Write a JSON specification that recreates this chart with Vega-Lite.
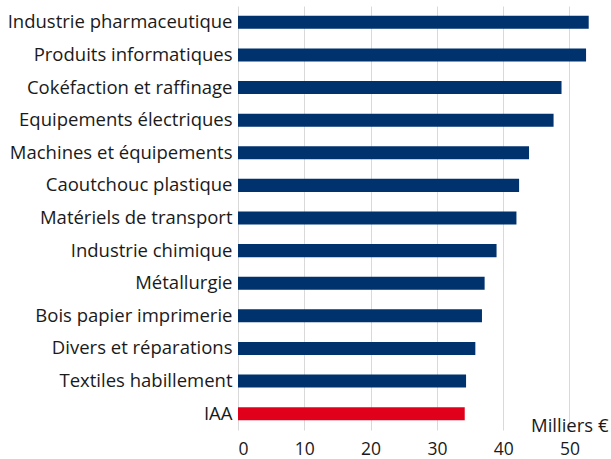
{
  "$schema": "https://vega.github.io/schema/vega-lite/v6.json",
  "autosize": {"type": "none"},
  "padding": {"left": 238, "top": 6, "right": 15, "bottom": 29},
  "width": 358,
  "height": 424,
  "background": "white",
  "data": {
    "values": [
      {"secteur": "Industrie pharmaceutique", "valeur": 52.9, "groupe": "autre"},
      {"secteur": "Produits informatiques", "valeur": 52.5, "groupe": "autre"},
      {"secteur": "Cokéfaction et raffinage", "valeur": 48.8, "groupe": "autre"},
      {"secteur": "Equipements électriques", "valeur": 47.6, "groupe": "autre"},
      {"secteur": "Machines et équipements", "valeur": 43.9, "groupe": "autre"},
      {"secteur": "Caoutchouc plastique", "valeur": 42.4, "groupe": "autre"},
      {"secteur": "Matériels de transport", "valeur": 42.0, "groupe": "autre"},
      {"secteur": "Industrie chimique", "valeur": 39.0, "groupe": "autre"},
      {"secteur": "Métallurgie", "valeur": 37.2, "groupe": "autre"},
      {"secteur": "Bois papier imprimerie", "valeur": 36.8, "groupe": "autre"},
      {"secteur": "Divers et réparations", "valeur": 35.8, "groupe": "autre"},
      {"secteur": "Textiles habillement", "valeur": 34.4, "groupe": "autre"},
      {"secteur": "IAA", "valeur": 34.2, "groupe": "IAA"}
    ]
  },
  "mark": {"type": "bar"},
  "encoding": {
    "y": {
      "field": "secteur",
      "type": "nominal",
      "sort": null,
      "scale": {"paddingInner": 0.6, "paddingOuter": 0.3},
      "axis": {
        "title": null,
        "domain": false,
        "ticks": false,
        "grid": false,
        "labelPadding": 6,
        "labelFont": "Open Sans",
        "labelFontSize": 18.5,
        "labelColor": "#1a1a1a",
        "labelLimit": 300
      }
    },
    "x": {
      "field": "valeur",
      "type": "quantitative",
      "scale": {"domain": [0, 54], "nice": false},
      "axis": {
        "values": [0, 10, 20, 30, 40, 50],
        "domain": false,
        "ticks": false,
        "grid": true,
        "gridColor": "#d9d9d9",
        "gridWidth": 1,
        "labelPadding": 10,
        "labelFont": "Open Sans",
        "labelFontSize": 17.5,
        "labelColor": "#1a1a1a",
        "title": "Milliers €",
        "titleFont": "Open Sans",
        "titleFontSize": 18.5,
        "titleFontWeight": "normal",
        "titleColor": "#1a1a1a",
        "titleAnchor": "end",
        "titleAlign": "right",
        "titleBaseline": "middle",
        "titleX": 370,
        "titleY": -5
      }
    },
    "color": {
      "field": "groupe",
      "type": "nominal",
      "scale": {"domain": ["autre", "IAA"], "range": ["#00326e", "#e1001c"]},
      "legend": null
    }
  },
  "config": {"view": {"stroke": null}}
}
